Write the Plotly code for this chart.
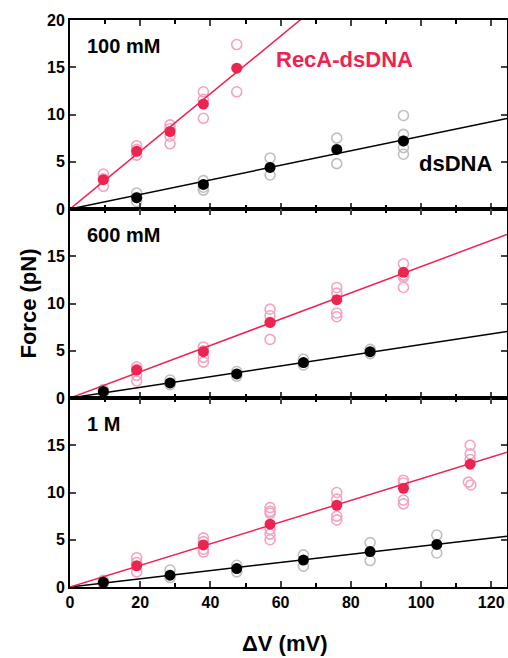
import plotly.graph_objects as go
from plotly.subplots import make_subplots

# ---------------- data ----------------
panel_labels = ["100 mM", "600 mM", "1 M"]

# 100 mM
p1_recA_mean_x = [9.5, 19, 28.5, 38, 47.5]
p1_recA_mean_y = [3.1, 6.1, 8.2, 11.1, 14.9]
p1_recA_raw_x = [9.5, 9.5, 9.5, 19, 19, 19, 28.5, 28.5, 28.5, 28.5, 38, 38, 38, 47.5, 47.5]
p1_recA_raw_y = [3.7, 3.2, 2.4, 6.7, 6.3, 5.7, 8.9, 8.5, 7.7, 6.9, 12.4, 11.6, 9.6, 17.4, 12.4]
p1_ds_mean_x = [19, 38, 57, 76, 95]
p1_ds_mean_y = [1.2, 2.6, 4.4, 6.3, 7.2]
p1_ds_raw_x = [19, 19, 19, 38, 38, 38, 57, 57, 76, 76, 95, 95, 95, 95, 95]
p1_ds_raw_y = [1.7, 1.2, 0.8, 3.0, 2.3, 2.0, 5.4, 3.6, 7.5, 4.8, 9.9, 7.9, 7.2, 6.5, 5.8]
p1_slopes = [0.305, 0.077]  # RecA-dsDNA, dsDNA (pN/mV)

# 600 mM
p2_recA_mean_x = [19, 38, 57, 76, 95]
p2_recA_mean_y = [2.95, 4.9, 8.0, 10.4, 13.3]
p2_recA_raw_x = [19, 19, 19, 19, 38, 38, 38, 38, 57, 57, 57, 57, 76, 76, 76, 76, 95, 95, 95, 95]
p2_recA_raw_y = [3.3, 3.0, 2.4, 1.8, 5.4, 5.0, 4.3, 3.8, 9.4, 8.7, 8.0, 6.2, 11.7, 11.1, 9.0, 8.6, 14.2, 13.0, 12.8, 11.7]
p2_ds_mean_x = [9.5, 28.5, 47.5, 66.5, 85.5]
p2_ds_mean_y = [0.7, 1.6, 2.55, 3.75, 4.9]
p2_ds_raw_x = [9.5, 9.5, 28.5, 28.5, 47.5, 47.5, 66.5, 66.5, 85.5, 85.5]
p2_ds_raw_y = [0.9, 0.5, 1.9, 1.4, 2.8, 2.3, 4.1, 3.5, 5.15, 4.7]
p2_slopes = [0.139, 0.0565]

# 1 M
p3_recA_mean_x = [19, 38, 57, 76, 95, 114]
p3_recA_mean_y = [2.25, 4.45, 6.65, 8.65, 10.45, 13.0]
p3_recA_raw_x = [19, 19, 19, 38, 38, 38, 38, 57, 57, 57, 57, 57, 57,
                 76, 76, 76, 76, 95, 95, 95, 95, 114, 114, 114, 113.5, 114.2]
p3_recA_raw_y = [3.1, 2.6, 1.6, 5.2, 4.8, 4.0, 3.7, 8.4, 8.0, 7.8, 6.1, 5.6, 5.0,
                 10.0, 9.3, 7.5, 7.1, 11.3, 11.0, 9.2, 8.8, 15.0, 14.1, 13.5, 11.1, 10.8]
p3_ds_mean_x = [9.5, 28.5, 47.5, 66.5, 85.5, 104.5]
p3_ds_mean_y = [0.5, 1.25, 1.95, 2.85, 3.75, 4.5]
p3_ds_raw_x = [9.5, 9.5, 28.5, 28.5, 47.5, 47.5, 66.5, 66.5, 85.5, 85.5, 104.5, 104.5]
p3_ds_raw_y = [0.7, 0.35, 1.8, 1.0, 2.3, 1.6, 3.4, 2.2, 4.7, 2.8, 5.5, 3.6]
p3_slopes = [0.1145, 0.0432]

x_range = [0, 124.5]
x_ticks = [0, 20, 40, 60, 80, 100, 120]

# --------------- style ----------------
RED = "#EC2450"
PINK = "#F4A3C1"
GREY = "#BFBFBF"
BLACK = "#000000"
FONT = "Liberation Sans, Arial, sans-serif"

panels = [
    dict(label=panel_labels[0], rmx=p1_recA_mean_x, rmy=p1_recA_mean_y, rrx=p1_recA_raw_x, rry=p1_recA_raw_y,
         dmx=p1_ds_mean_x, dmy=p1_ds_mean_y, drx=p1_ds_raw_x, dry=p1_ds_raw_y, slopes=p1_slopes,
         yticks=[0, 5, 10, 15, 20]),
    dict(label=panel_labels[1], rmx=p2_recA_mean_x, rmy=p2_recA_mean_y, rrx=p2_recA_raw_x, rry=p2_recA_raw_y,
         dmx=p2_ds_mean_x, dmy=p2_ds_mean_y, drx=p2_ds_raw_x, dry=p2_ds_raw_y, slopes=p2_slopes,
         yticks=[0, 5, 10, 15]),
    dict(label=panel_labels[2], rmx=p3_recA_mean_x, rmy=p3_recA_mean_y, rrx=p3_recA_raw_x, rry=p3_recA_raw_y,
         dmx=p3_ds_mean_x, dmy=p3_ds_mean_y, drx=p3_ds_raw_x, dry=p3_ds_raw_y, slopes=p3_slopes,
         yticks=[0, 5, 10, 15]),
]

fig = make_subplots(rows=3, cols=1, shared_xaxes=True, vertical_spacing=0)

for i, p in enumerate(panels):
    row = i + 1
    fig.add_trace(go.Scatter(x=p["drx"], y=p["dry"], mode="markers",
                             marker=dict(symbol="circle-open", size=10, color=GREY, line=dict(width=1.6, color=GREY))),
                  row=row, col=1)
    fig.add_trace(go.Scatter(x=p["rrx"], y=p["rry"], mode="markers",
                             marker=dict(symbol="circle-open", size=10, color=PINK, line=dict(width=1.6, color=PINK))),
                  row=row, col=1)
    fig.add_trace(go.Scatter(x=x_range, y=[p["slopes"][1] * v for v in x_range], mode="lines",
                             line=dict(color=BLACK, width=1.5)), row=row, col=1)
    fig.add_trace(go.Scatter(x=x_range, y=[p["slopes"][0] * v for v in x_range], mode="lines",
                             line=dict(color=RED, width=1.5)), row=row, col=1)
    fig.add_trace(go.Scatter(x=p["dmx"], y=p["dmy"], mode="markers",
                             marker=dict(symbol="circle", size=11, color=BLACK)), row=row, col=1)
    fig.add_trace(go.Scatter(x=p["rmx"], y=p["rmy"], mode="markers",
                             marker=dict(symbol="circle", size=11, color=RED)), row=row, col=1)

    fig.update_yaxes(range=[0, 20], tickvals=p["yticks"], row=row, col=1)

    xref = "x" if row == 1 else f"x{row}"
    yref = "y" if row == 1 else f"y{row}"
    fig.add_annotation(x=4.3, y=17.2, xref=xref, yref=yref, text=p["label"], showarrow=False,
                       xanchor="left", yanchor="middle",
                       font=dict(family=FONT, size=20, color=BLACK, weight="bold"))

fig.add_annotation(x=58.0, y=15.8, xref="x", yref="y", text="RecA-dsDNA", showarrow=False,
                   xanchor="left", yanchor="middle", font=dict(family=FONT, size=22, color=RED, weight="bold"))
fig.add_annotation(x=98.8, y=4.8, xref="x", yref="y", text="dsDNA", showarrow=False,
                   xanchor="left", yanchor="middle", font=dict(family=FONT, size=22, color=BLACK, weight="bold"))

fig.add_annotation(x=-0.096, y=0.5, xref="paper", yref="paper", text="Force (pN)", textangle=-90,
                   showarrow=False, xanchor="center", yanchor="middle",
                   font=dict(family=FONT, size=22, color=BLACK, weight="bold"))
fig.add_annotation(x=0.492, y=-0.1005, xref="paper", yref="paper", text="ΔV (mV)",
                   showarrow=False, xanchor="center", yanchor="middle",
                   font=dict(family=FONT, size=22, color=BLACK, weight="bold"))

tickfont = dict(family=FONT, size=16, color=BLACK, weight="bold")
fig.update_xaxes(range=x_range, tickvals=x_ticks, ticks="inside", ticklen=6, tickwidth=1.5,
                 showline=True, linecolor=BLACK, linewidth=2, mirror="allticks",
                 showgrid=False, zeroline=False, tickfont=tickfont, automargin=False,
                 minor=dict(dtick=10, tick0=0, ticks="inside", ticklen=4, tickwidth=1.5, tickcolor=BLACK, showgrid=False))
fig.update_yaxes(ticks="inside", ticklen=6, tickwidth=1.5, automargin=False,
                 showline=True, linecolor=BLACK, linewidth=2, mirror="allticks",
                 showgrid=False, zeroline=False, tickfont=tickfont)

fig.update_layout(width=508, height=658, margin=dict(l=70, r=1, t=20, b=71),
                  plot_bgcolor="white", paper_bgcolor="white", showlegend=False)

# remove the default page margin so the figure sits at the window origin
fig.write_html("out.html", config={"displayModeBar": False},
               post_script="document.body.style.margin='0';document.body.style.overflow='hidden';")
